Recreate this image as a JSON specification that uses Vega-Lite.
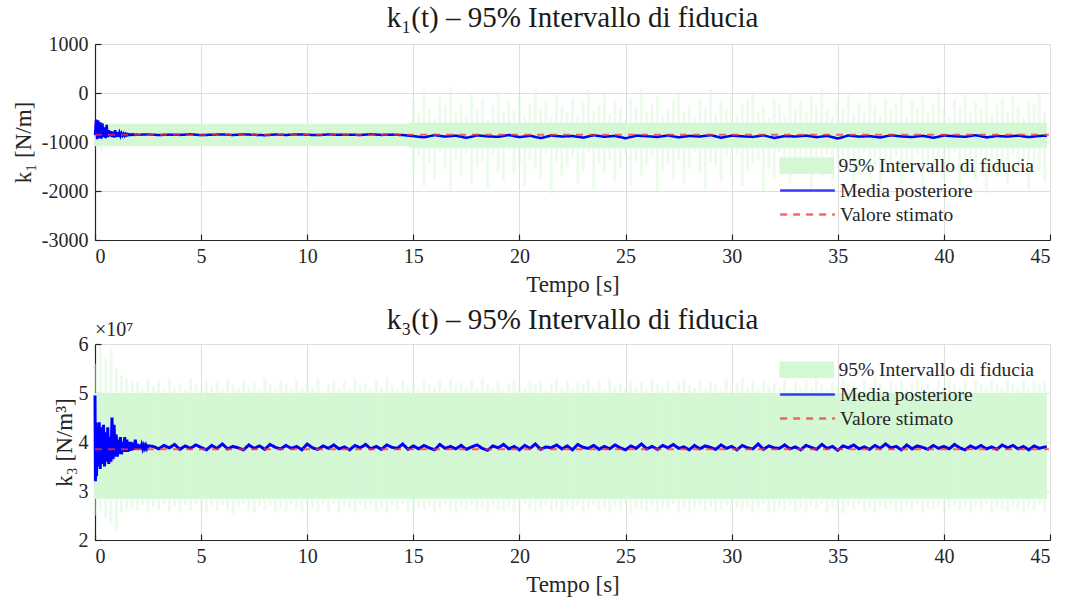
{
"$schema": "https://vega.github.io/schema/vega-lite/v6.json",
"background": "white",
"padding": {"left": 11, "top": 3, "right": 5, "bottom": 5},
"bounds": "flush",
"spacing": 104,
"config": {
  "view": {"stroke": "#dcdcdc", "strokeWidth": 1},
  "font": "'Liberation Serif', 'DejaVu Serif', serif",
  "axis": {"labelFont": "'Liberation Serif', 'DejaVu Serif', serif", "labelFontSize": 20, "labelColor": "#262626", "titleFont": "'Liberation Serif', 'DejaVu Serif', serif", "titleFontSize": 23, "titleFontWeight": "normal", "titleColor": "#262626", "gridColor": "#dedede", "gridWidth": 1, "domainColor": "#262626", "domainWidth": 1.2, "tickColor": "#262626", "tickWidth": 1.2, "tickSize": -6},
  "axisX": {"labelPadding": 12, "titlePadding": 7},
  "axisY": {"labelPadding": 13},
  "title": {"font": "'Liberation Serif', 'DejaVu Serif', serif", "fontSize": 29, "fontWeight": "normal", "color": "#1a1a1a"},
  "legend": {"labelFont": "'Liberation Serif', 'DejaVu Serif', serif", "labelFontSize": 19.5, "labelColor": "#262626", "labelLimit": 0, "padding": 0, "offset": 16, "rowPadding": 4, "labelOffset": 22, "symbolSize": 333,
    "layout": {"direction": "vertical", "margin": 4, "anchor": "end"}}
},
"datasets": {
  "c1": [{"t":0,"lo":-1082,"hi":-626},{"t":14.8,"lo":-1082,"hi":-626},{"t":14.81,"lo":-1116,"hi":-606},{"t":44.85,"lo":-1116,"hi":-606}],
  "s1": [
{"t":0.1,"lo":-1150,"hi":-560},{"t":0.3,"lo":-1180,"hi":-600},{"t":0.5,"lo":-1120,"hi":-580},{"t":0.7,"lo":-1100,"hi":-620},
{"t":15,"hi":-150,"lo":-1650},{"t":15.25,"hi":-420,"lo":-1300},{"t":15.5,"hi":50,"lo":-1900},{"t":15.75,"hi":-300,"lo":-1450},
{"t":16,"hi":-520,"lo":-1750},{"t":16.25,"hi":-80,"lo":-1200},{"t":16.5,"hi":-250,"lo":-1550},{"t":16.75,"hi":120,"lo":-2000},
{"t":17,"hi":-380,"lo":-1350},{"t":17.25,"hi":-200,"lo":-1700},{"t":17.5,"hi":-460,"lo":-1250},{"t":17.75,"hi":-30,"lo":-1850},
{"t":18,"hi":-330,"lo":-1500},{"t":18.25,"hi":-120,"lo":-1400},{"t":18.5,"hi":-540,"lo":-1950},{"t":18.75,"hi":-260,"lo":-1300},
{"t":19,"hi":30,"lo":-1600},{"t":19.25,"hi":-410,"lo":-1800},{"t":19.5,"hi":-180,"lo":-1150},{"t":19.75,"hi":-350,"lo":-1650},
{"t":20,"hi":-70,"lo":-1450},{"t":20.25,"hi":-480,"lo":-1900},{"t":20.5,"hi":-220,"lo":-1350},{"t":20.75,"hi":80,"lo":-1550},
{"t":21,"hi":-310,"lo":-1750},{"t":21.25,"hi":-140,"lo":-1250},{"t":21.5,"hi":-500,"lo":-2050},{"t":21.75,"hi":-40,"lo":-1400},
{"t":22,"hi":-270,"lo":-1700},{"t":22.25,"hi":-390,"lo":-1500},{"t":22.5,"hi":-100,"lo":-1300},{"t":22.75,"hi":-450,"lo":-1850},
{"t":23,"hi":-190,"lo":-1600},{"t":23.25,"hi":60,"lo":-1200},{"t":23.5,"hi":-360,"lo":-1950},{"t":23.75,"hi":-240,"lo":-1450},
{"t":24,"hi":-20,"lo":-1650},{"t":24.25,"hi":-430,"lo":-1350},{"t":24.5,"hi":-160,"lo":-1800},{"t":24.75,"hi":-300,"lo":-1550},
{"t":25,"hi":-530,"lo":-1250},{"t":25.25,"hi":-90,"lo":-1900},{"t":25.5,"hi":-280,"lo":-1400},{"t":25.75,"hi":100,"lo":-1700},
{"t":26,"hi":-400,"lo":-1500},{"t":26.25,"hi":-210,"lo":-1300},{"t":26.5,"hi":-60,"lo":-2000},{"t":26.75,"hi":-470,"lo":-1600},
{"t":27,"hi":-330,"lo":-1450},{"t":27.25,"hi":-130,"lo":-1750},{"t":27.5,"hi":10,"lo":-1350},{"t":27.75,"hi":-370,"lo":-1850},
{"t":28,"hi":-250,"lo":-1550},{"t":28.25,"hi":-490,"lo":-1200},{"t":28.5,"hi":-110,"lo":-1650},{"t":28.75,"hi":-290,"lo":-1950},
{"t":29,"hi":70,"lo":-1400},{"t":29.25,"hi":-420,"lo":-1500},{"t":29.5,"hi":-170,"lo":-1800},{"t":29.75,"hi":-340,"lo":-1300},
{"t":30,"hi":-50,"lo":-1700},{"t":30.25,"hi":-460,"lo":-1250},{"t":30.5,"hi":-230,"lo":-1900},{"t":30.75,"hi":-140,"lo":-1600},
{"t":31,"hi":40,"lo":-1450},{"t":31.25,"hi":-380,"lo":-1350},{"t":31.5,"hi":-270,"lo":-2000},{"t":31.75,"hi":-510,"lo":-1550},
{"t":32,"hi":-90,"lo":-1750},{"t":32.25,"hi":-200,"lo":-1200},{"t":32.5,"hi":-440,"lo":-1650},{"t":32.75,"hi":0,"lo":-1850},
{"t":33,"hi":-310,"lo":-1400},{"t":33.25,"hi":-150,"lo":-1500},{"t":33.5,"hi":-400,"lo":-1300},{"t":33.75,"hi":-70,"lo":-1950},
{"t":34,"hi":-260,"lo":-1600},{"t":34.25,"hi":90,"lo":-1700},{"t":34.5,"hi":-350,"lo":-1250},{"t":34.75,"hi":-480,"lo":-1800},
{"t":35,"hi":-120,"lo":-1450},{"t":35.25,"hi":-300,"lo":-1550},{"t":35.5,"hi":-30,"lo":-1350},{"t":35.75,"hi":-420,"lo":-1900},
{"t":36,"hi":-190,"lo":-1650},{"t":36.25,"hi":-360,"lo":-1200},{"t":36.5,"hi":50,"lo":-1750},{"t":36.75,"hi":-250,"lo":-1500},
{"t":37,"hi":-450,"lo":-2000},{"t":37.25,"hi":-100,"lo":-1400},{"t":37.5,"hi":-330,"lo":-1600},{"t":37.75,"hi":-210,"lo":-1300},
{"t":38,"hi":20,"lo":-1850},{"t":38.25,"hi":-470,"lo":-1550},{"t":38.5,"hi":-160,"lo":-1700},{"t":38.75,"hi":-290,"lo":-1250},
{"t":39,"hi":-80,"lo":-1950},{"t":39.25,"hi":-390,"lo":-1450},{"t":39.5,"hi":-230,"lo":-1650},{"t":39.75,"hi":110,"lo":-1350},
{"t":40,"hi":-340,"lo":-1800},{"t":40.25,"hi":-500,"lo":-1500},{"t":40.5,"hi":-130,"lo":-1200},{"t":40.75,"hi":-270,"lo":-1900},
{"t":41,"hi":-40,"lo":-1600},{"t":41.25,"hi":-410,"lo":-1400},{"t":41.5,"hi":-180,"lo":-1750},{"t":41.75,"hi":-320,"lo":-1300},
{"t":42,"hi":30,"lo":-2050},{"t":42.25,"hi":-440,"lo":-1550},{"t":42.5,"hi":-220,"lo":-1700},{"t":42.75,"hi":-110,"lo":-1450},
{"t":43,"hi":-370,"lo":-1850},{"t":43.25,"hi":-60,"lo":-1250},{"t":43.5,"hi":-280,"lo":-1650},{"t":43.75,"hi":-490,"lo":-1350},
{"t":44,"hi":-150,"lo":-1950},{"t":44.25,"hi":-240,"lo":-1500},{"t":44.5,"hi":-10,"lo":-1600},{"t":44.75,"hi":-400,"lo":-1800}
  ],
  "m1": [
{"t":0,"v":-860},{"t":0.05,"v":-540},{"t":0.1,"v":-940},{"t":0.15,"v":-560},{"t":0.2,"v":-920},{"t":0.25,"v":-600},{"t":0.3,"v":-930},{"t":0.35,"v":-620},{"t":0.4,"v":-900},{"t":0.45,"v":-700},
{"t":0.5,"v":-920},{"t":0.55,"v":-650},{"t":0.6,"v":-900},{"t":0.65,"v":-760},{"t":0.7,"v":-880},{"t":0.75,"v":-780},{"t":0.8,"v":-900},{"t":0.85,"v":-790},{"t":0.9,"v":-910},{"t":0.95,"v":-760},
{"t":1.0,"v":-900},{"t":1.05,"v":-800},{"t":1.1,"v":-890},{"t":1.15,"v":-810},{"t":1.2,"v":-880},{"t":1.25,"v":-820},{"t":1.3,"v":-870},{"t":1.35,"v":-830},{"t":1.4,"v":-875},{"t":1.45,"v":-835},
{"t":1.5,"v":-865},{"t":1.55,"v":-840},{"t":1.6,"v":-860},{"t":1.65,"v":-845},{"t":1.7,"v":-858},{"t":1.75,"v":-842},{"t":1.8,"v":-856},{"t":1.85,"v":-846},{"t":1.9,"v":-855},{"t":1.95,"v":-848},
{"t":2.0,"v":-852},{"t":2.5,"v":-846},{"t":3,"v":-858},{"t":3.5,"v":-849},{"t":4,"v":-855},{"t":4.5,"v":-843},{"t":5,"v":-860},{"t":5.5,"v":-851},{"t":6,"v":-847},{"t":6.5,"v":-857},
{"t":7,"v":-844},{"t":7.5,"v":-853},{"t":8,"v":-861},{"t":8.5,"v":-848},{"t":9,"v":-856},{"t":9.5,"v":-845},{"t":10,"v":-852},{"t":10.5,"v":-859},{"t":11,"v":-846},{"t":11.5,"v":-854},
{"t":12,"v":-850},{"t":12.5,"v":-857},{"t":13,"v":-843},{"t":13.5,"v":-855},{"t":14,"v":-849},{"t":14.5,"v":-858},
{"t":15,"v":-880},{"t":15.5,"v":-905},{"t":16,"v":-860},{"t":16.5,"v":-890},{"t":17,"v":-870},{"t":17.5,"v":-915},{"t":18,"v":-865},{"t":18.5,"v":-885},{"t":19,"v":-895},{"t":19.5,"v":-858},
{"t":20,"v":-900},{"t":20.5,"v":-872},{"t":21,"v":-920},{"t":21.5,"v":-868},{"t":22,"v":-888},{"t":22.5,"v":-878},{"t":23,"v":-910},{"t":23.5,"v":-862},{"t":24,"v":-893},{"t":24.5,"v":-875},
{"t":25,"v":-925},{"t":25.5,"v":-870},{"t":26,"v":-882},{"t":26.5,"v":-898},{"t":27,"v":-866},{"t":27.5,"v":-905},{"t":28,"v":-876},{"t":28.5,"v":-889},{"t":29,"v":-860},{"t":29.5,"v":-912},
{"t":30,"v":-871},{"t":30.5,"v":-884},{"t":31,"v":-896},{"t":31.5,"v":-864},{"t":32,"v":-918},{"t":32.5,"v":-879},{"t":33,"v":-887},{"t":33.5,"v":-869},{"t":34,"v":-902},{"t":34.5,"v":-874},
{"t":35,"v":-930},{"t":35.5,"v":-867},{"t":36,"v":-891},{"t":36.5,"v":-881},{"t":37,"v":-908},{"t":37.5,"v":-863},{"t":38,"v":-886},{"t":38.5,"v":-899},{"t":39,"v":-873},{"t":39.5,"v":-914},
{"t":40,"v":-868},{"t":40.5,"v":-883},{"t":41,"v":-894},{"t":41.5,"v":-861},{"t":42,"v":-906},{"t":42.5,"v":-877},{"t":43,"v":-889},{"t":43.5,"v":-870},{"t":44,"v":-900},{"t":44.5,"v":-876},
{"t":44.85,"v":-872}
  ],
  "e1": [{"t":0,"v":-850},{"t":44.95,"v":-850}],
  "c2": [{"t":0,"lo":2.84e7,"hi":5.0e7},{"t":44.85,"lo":2.84e7,"hi":5.0e7}],
  "s2": [
{"t":0,"hi":5.6e7,"lo":2.5e7},{"t":0.25,"hi":5.95e7,"lo":2.6e7},{"t":0.5,"hi":5.7e7,"lo":2.45e7},{"t":0.75,"hi":5.9e7,"lo":2.35e7},
{"t":1,"hi":5.5e7,"lo":2.2e7},{"t":1.25,"hi":5.35e7,"lo":2.55e7},{"t":1.5,"hi":5.3e7,"lo":2.6e7},{"t":1.75,"hi":5.25e7,"lo":2.65e7},
{"t":2,"hi":5.22e7,"lo":2.6e7},{"t":2.25,"hi":5.1e7,"lo":2.7e7},{"t":2.5,"hi":5.3e7,"lo":2.55e7},{"t":2.75,"hi":5.15e7,"lo":2.66e7},
{"t":3,"hi":5.25e7,"lo":2.62e7},{"t":3.25,"hi":5.08e7,"lo":2.72e7},{"t":3.5,"hi":5.28e7,"lo":2.58e7},{"t":3.75,"hi":5.12e7,"lo":2.68e7},
{"t":4,"hi":5.2e7,"lo":2.56e7},{"t":4.25,"hi":5.06e7,"lo":2.7e7},{"t":4.5,"hi":5.31e7,"lo":2.6e7},{"t":4.75,"hi":5.17e7,"lo":2.74e7},
{"t":5,"hi":5.09e7,"lo":2.63e7},{"t":5.25,"hi":5.26e7,"lo":2.55e7},{"t":5.5,"hi":5.14e7,"lo":2.69e7},{"t":5.75,"hi":5.23e7,"lo":2.59e7},
{"t":6,"hi":5.07e7,"lo":2.71e7},{"t":6.25,"hi":5.29e7,"lo":2.61e7},{"t":6.5,"hi":5.16e7,"lo":2.54e7},{"t":6.75,"hi":5.11e7,"lo":2.67e7},
{"t":7,"hi":5.27e7,"lo":2.73e7},{"t":7.25,"hi":5.13e7,"lo":2.6e7},{"t":7.5,"hi":5.21e7,"lo":2.57e7},{"t":7.75,"hi":5.06e7,"lo":2.68e7},
{"t":8,"hi":5.31e7,"lo":2.62e7},{"t":8.25,"hi":5.17e7,"lo":2.7e7},{"t":8.5,"hi":5.1e7,"lo":2.56e7},{"t":8.75,"hi":5.24e7,"lo":2.65e7},
{"t":9,"hi":5.19e7,"lo":2.59e7},{"t":9.25,"hi":5.08e7,"lo":2.72e7},{"t":9.5,"hi":5.28e7,"lo":2.61e7},{"t":9.75,"hi":5.14e7,"lo":2.55e7},
{"t":10,"hi":5.22e7,"lo":2.67e7},{"t":10.25,"hi":5.11e7,"lo":2.63e7},{"t":10.5,"hi":5.3e7,"lo":2.58e7},{"t":10.75,"hi":5.05e7,"lo":2.7e7},
{"t":11,"hi":5.18e7,"lo":2.6e7},{"t":11.25,"hi":5.26e7,"lo":2.74e7},{"t":11.5,"hi":5.12e7,"lo":2.57e7},{"t":11.75,"hi":5.23e7,"lo":2.66e7},
{"t":12,"hi":5.09e7,"lo":2.62e7},{"t":12.25,"hi":5.29e7,"lo":2.55e7},{"t":12.5,"hi":5.15e7,"lo":2.69e7},{"t":12.75,"hi":5.2e7,"lo":2.61e7},
{"t":13,"hi":5.07e7,"lo":2.71e7},{"t":13.25,"hi":5.25e7,"lo":2.58e7},{"t":13.5,"hi":5.13e7,"lo":2.64e7},{"t":13.75,"hi":5.32e7,"lo":2.56e7},
{"t":14,"hi":5.16e7,"lo":2.68e7},{"t":14.25,"hi":5.1e7,"lo":2.6e7},{"t":14.5,"hi":5.27e7,"lo":2.73e7},{"t":14.75,"hi":5.14e7,"lo":2.59e7},
{"t":15,"hi":5.21e7,"lo":2.55e7},{"t":15.25,"hi":5.06e7,"lo":2.66e7},{"t":15.5,"hi":5.3e7,"lo":2.62e7},{"t":15.75,"hi":5.18e7,"lo":2.7e7},
{"t":16,"hi":5.12e7,"lo":2.57e7},{"t":16.25,"hi":5.24e7,"lo":2.64e7},{"t":16.5,"hi":5.08e7,"lo":2.72e7},{"t":16.75,"hi":5.28e7,"lo":2.6e7},
{"t":17,"hi":5.15e7,"lo":2.54e7},{"t":17.25,"hi":5.22e7,"lo":2.67e7},{"t":17.5,"hi":5.11e7,"lo":2.61e7},{"t":17.75,"hi":5.26e7,"lo":2.69e7},
{"t":18,"hi":5.09e7,"lo":2.58e7},{"t":18.25,"hi":5.31e7,"lo":2.65e7},{"t":18.5,"hi":5.17e7,"lo":2.56e7},{"t":18.75,"hi":5.13e7,"lo":2.71e7},
{"t":19,"hi":5.25e7,"lo":2.62e7},{"t":19.25,"hi":5.07e7,"lo":2.59e7},{"t":19.5,"hi":5.2e7,"lo":2.68e7},{"t":19.75,"hi":5.29e7,"lo":2.55e7},
{"t":20,"hi":5.14e7,"lo":2.66e7},{"t":20.25,"hi":5.1e7,"lo":2.73e7},{"t":20.5,"hi":5.27e7,"lo":2.6e7},{"t":20.75,"hi":5.16e7,"lo":2.57e7},
{"t":21,"hi":5.23e7,"lo":2.64e7},{"t":21.25,"hi":5.05e7,"lo":2.7e7},{"t":21.5,"hi":5.19e7,"lo":2.58e7},{"t":21.75,"hi":5.3e7,"lo":2.62e7},
{"t":22,"hi":5.12e7,"lo":2.55e7},{"t":22.25,"hi":5.26e7,"lo":2.67e7},{"t":22.5,"hi":5.08e7,"lo":2.61e7},{"t":22.75,"hi":5.21e7,"lo":2.69e7},
{"t":23,"hi":5.17e7,"lo":2.56e7},{"t":23.25,"hi":5.28e7,"lo":2.63e7},{"t":23.5,"hi":5.11e7,"lo":2.72e7},{"t":23.75,"hi":5.24e7,"lo":2.59e7},
{"t":24,"hi":5.06e7,"lo":2.65e7},{"t":24.25,"hi":5.32e7,"lo":2.57e7},{"t":24.5,"hi":5.15e7,"lo":2.68e7},{"t":24.75,"hi":5.2e7,"lo":2.6e7},
{"t":25,"hi":5.1e7,"lo":2.71e7},{"t":25.25,"hi":5.27e7,"lo":2.54e7},{"t":25.5,"hi":5.13e7,"lo":2.66e7},{"t":25.75,"hi":5.22e7,"lo":2.62e7},
{"t":26,"hi":5.08e7,"lo":2.58e7},{"t":26.25,"hi":5.29e7,"lo":2.69e7},{"t":26.5,"hi":5.18e7,"lo":2.56e7},{"t":26.75,"hi":5.14e7,"lo":2.64e7},
{"t":27,"hi":5.25e7,"lo":2.61e7},{"t":27.25,"hi":5.07e7,"lo":2.73e7},{"t":27.5,"hi":5.21e7,"lo":2.57e7},{"t":27.75,"hi":5.3e7,"lo":2.67e7},
{"t":28,"hi":5.16e7,"lo":2.55e7},{"t":28.25,"hi":5.11e7,"lo":2.63e7},{"t":28.5,"hi":5.26e7,"lo":2.7e7},{"t":28.75,"hi":5.09e7,"lo":2.59e7},
{"t":29,"hi":5.23e7,"lo":2.66e7},{"t":29.25,"hi":5.17e7,"lo":2.58e7},{"t":29.5,"hi":5.05e7,"lo":2.62e7},{"t":29.75,"hi":5.28e7,"lo":2.71e7},
{"t":30,"hi":5.13e7,"lo":2.56e7},{"t":30.25,"hi":5.2e7,"lo":2.65e7},{"t":30.5,"hi":5.31e7,"lo":2.6e7},{"t":30.75,"hi":5.12e7,"lo":2.68e7},
{"t":31,"hi":5.24e7,"lo":2.57e7},{"t":31.25,"hi":5.08e7,"lo":2.64e7},{"t":31.5,"hi":5.27e7,"lo":2.72e7},{"t":31.75,"hi":5.15e7,"lo":2.59e7},
{"t":32,"hi":5.19e7,"lo":2.55e7},{"t":32.25,"hi":5.1e7,"lo":2.67e7},{"t":32.5,"hi":5.29e7,"lo":2.61e7},{"t":32.75,"hi":5.06e7,"lo":2.7e7},
{"t":33,"hi":5.22e7,"lo":2.58e7},{"t":33.25,"hi":5.14e7,"lo":2.63e7},{"t":33.5,"hi":5.26e7,"lo":2.56e7},{"t":33.75,"hi":5.11e7,"lo":2.69e7},
{"t":34,"hi":5.3e7,"lo":2.62e7},{"t":34.25,"hi":5.17e7,"lo":2.73e7},{"t":34.5,"hi":5.07e7,"lo":2.57e7},{"t":34.75,"hi":5.23e7,"lo":2.66e7},
{"t":35,"hi":5.13e7,"lo":2.6e7},{"t":35.25,"hi":5.28e7,"lo":2.54e7},{"t":35.5,"hi":5.16e7,"lo":2.68e7},{"t":35.75,"hi":5.21e7,"lo":2.61e7},
{"t":36,"hi":5.09e7,"lo":2.71e7},{"t":36.25,"hi":5.25e7,"lo":2.59e7},{"t":36.5,"hi":5.12e7,"lo":2.64e7},{"t":36.75,"hi":5.32e7,"lo":2.56e7},
{"t":37,"hi":5.18e7,"lo":2.67e7},{"t":37.25,"hi":5.06e7,"lo":2.62e7},{"t":37.5,"hi":5.24e7,"lo":2.7e7},{"t":37.75,"hi":5.14e7,"lo":2.58e7},
{"t":38,"hi":5.27e7,"lo":2.55e7},{"t":38.25,"hi":5.1e7,"lo":2.66e7},{"t":38.5,"hi":5.2e7,"lo":2.6e7},{"t":38.75,"hi":5.29e7,"lo":2.72e7},
{"t":39,"hi":5.15e7,"lo":2.57e7},{"t":39.25,"hi":5.22e7,"lo":2.65e7},{"t":39.5,"hi":5.08e7,"lo":2.61e7},{"t":39.75,"hi":5.26e7,"lo":2.69e7},
{"t":40,"hi":5.11e7,"lo":2.56e7},{"t":40.25,"hi":5.31e7,"lo":2.63e7},{"t":40.5,"hi":5.17e7,"lo":2.71e7},{"t":40.75,"hi":5.13e7,"lo":2.59e7},
{"t":41,"hi":5.23e7,"lo":2.64e7},{"t":41.25,"hi":5.07e7,"lo":2.57e7},{"t":41.5,"hi":5.28e7,"lo":2.68e7},{"t":41.75,"hi":5.19e7,"lo":2.6e7},
{"t":42,"hi":5.12e7,"lo":2.73e7},{"t":42.25,"hi":5.25e7,"lo":2.55e7},{"t":42.5,"hi":5.16e7,"lo":2.66e7},{"t":42.75,"hi":5.09e7,"lo":2.62e7},
{"t":43,"hi":5.3e7,"lo":2.58e7},{"t":43.25,"hi":5.2e7,"lo":2.69e7},{"t":43.5,"hi":5.14e7,"lo":2.61e7},{"t":43.75,"hi":5.27e7,"lo":2.56e7},
{"t":44,"hi":5.1e7,"lo":2.65e7},{"t":44.25,"hi":5.22e7,"lo":2.6e7},{"t":44.5,"hi":5.18e7,"lo":2.7e7},{"t":44.75,"hi":5.24e7,"lo":2.57e7}
  ],
  "m2": [
{"t":0,"v":4.95e7},{"t":0.02,"v":3.2e7},{"t":0.05,"v":4.4e7},{"t":0.07,"v":3.3e7},{"t":0.1,"v":4.1e7},{"t":0.15,"v":3.5e7},{"t":0.2,"v":4.4e7},{"t":0.25,"v":3.45e7},{"t":0.3,"v":4.3e7},{"t":0.35,"v":3.55e7},
{"t":0.4,"v":4.35e7},{"t":0.45,"v":3.5e7},{"t":0.5,"v":4.2e7},{"t":0.55,"v":3.6e7},{"t":0.6,"v":4.3e7},{"t":0.65,"v":3.55e7},{"t":0.7,"v":4.1e7},{"t":0.75,"v":3.6e7},{"t":0.8,"v":4.5e7},{"t":0.85,"v":3.65e7},
{"t":0.9,"v":4.35e7},{"t":0.95,"v":3.7e7},{"t":1.0,"v":4.15e7},{"t":1.05,"v":3.7e7},{"t":1.1,"v":4.05e7},{"t":1.15,"v":3.75e7},{"t":1.2,"v":4.1e7},{"t":1.25,"v":3.75e7},{"t":1.3,"v":4.0e7},{"t":1.35,"v":3.8e7},
{"t":1.4,"v":4.1e7},{"t":1.45,"v":3.8e7},{"t":1.5,"v":4.05e7},{"t":1.55,"v":3.8e7},{"t":1.6,"v":4.0e7},{"t":1.65,"v":3.82e7},{"t":1.7,"v":4.0e7},{"t":1.75,"v":3.83e7},{"t":1.8,"v":3.98e7},{"t":1.85,"v":3.84e7},
{"t":1.9,"v":4.05e7},{"t":1.95,"v":3.85e7},{"t":2.0,"v":3.96e7},{"t":2.05,"v":3.85e7},{"t":2.1,"v":3.95e7},{"t":2.15,"v":3.86e7},{"t":2.2,"v":3.94e7},{"t":2.25,"v":3.86e7},{"t":2.3,"v":3.93e7},{"t":2.35,"v":3.87e7},
{"t":2.4,"v":3.93e7},{"t":2.45,"v":3.87e7},{"t":2.5,"v":3.92e7},{"t":2.75,"v":3.91e7},
{"t":3,"v":3.86e7},{"t":3.25,"v":3.93e7},{"t":3.5,"v":3.88e7},{"t":3.75,"v":3.95e7},
{"t":4,"v":3.85e7},{"t":4.25,"v":3.92e7},{"t":4.5,"v":3.87e7},{"t":4.75,"v":3.94e7},
{"t":5,"v":3.89e7},{"t":5.25,"v":3.84e7},{"t":5.5,"v":3.93e7},{"t":5.75,"v":3.87e7},
{"t":6,"v":3.96e7},{"t":6.25,"v":3.86e7},{"t":6.5,"v":3.91e7},{"t":6.75,"v":3.88e7},
{"t":7,"v":3.84e7},{"t":7.25,"v":3.94e7},{"t":7.5,"v":3.87e7},{"t":7.75,"v":3.92e7},
{"t":8,"v":3.85e7},{"t":8.25,"v":3.95e7},{"t":8.5,"v":3.89e7},{"t":8.75,"v":3.86e7},
{"t":9,"v":3.93e7},{"t":9.25,"v":3.87e7},{"t":9.5,"v":3.91e7},{"t":9.75,"v":3.84e7},
{"t":10,"v":3.96e7},{"t":10.25,"v":3.88e7},{"t":10.5,"v":3.85e7},{"t":10.75,"v":3.92e7},
{"t":11,"v":3.87e7},{"t":11.25,"v":3.94e7},{"t":11.5,"v":3.86e7},{"t":11.75,"v":3.9e7},
{"t":12,"v":3.84e7},{"t":12.25,"v":3.93e7},{"t":12.5,"v":3.88e7},{"t":12.75,"v":3.95e7},
{"t":13,"v":3.86e7},{"t":13.25,"v":3.91e7},{"t":13.5,"v":3.85e7},{"t":13.75,"v":3.94e7},
{"t":14,"v":3.89e7},{"t":14.25,"v":3.87e7},{"t":14.5,"v":3.96e7},{"t":14.75,"v":3.85e7},
{"t":15,"v":3.92e7},{"t":15.25,"v":3.86e7},{"t":15.5,"v":3.93e7},{"t":15.75,"v":3.88e7},
{"t":16,"v":3.84e7},{"t":16.25,"v":3.95e7},{"t":16.5,"v":3.87e7},{"t":16.75,"v":3.91e7},
{"t":17,"v":3.86e7},{"t":17.25,"v":3.93e7},{"t":17.5,"v":3.85e7},{"t":17.75,"v":3.9e7},
{"t":18,"v":3.94e7},{"t":18.25,"v":3.87e7},{"t":18.5,"v":3.83e7},{"t":18.75,"v":3.92e7},
{"t":19,"v":3.88e7},{"t":19.25,"v":3.95e7},{"t":19.5,"v":3.86e7},{"t":19.75,"v":3.91e7},
{"t":20,"v":3.84e7},{"t":20.25,"v":3.93e7},{"t":20.5,"v":3.87e7},{"t":20.75,"v":3.96e7},
{"t":21,"v":3.85e7},{"t":21.25,"v":3.9e7},{"t":21.5,"v":3.88e7},{"t":21.75,"v":3.94e7},
{"t":22,"v":3.86e7},{"t":22.25,"v":3.92e7},{"t":22.5,"v":3.84e7},{"t":22.75,"v":3.95e7},
{"t":23,"v":3.89e7},{"t":23.25,"v":3.87e7},{"t":23.5,"v":3.93e7},{"t":23.75,"v":3.85e7},
{"t":24,"v":3.91e7},{"t":24.25,"v":3.86e7},{"t":24.5,"v":3.94e7},{"t":24.75,"v":3.88e7},
{"t":25,"v":3.84e7},{"t":25.25,"v":3.92e7},{"t":25.5,"v":3.87e7},{"t":25.75,"v":3.96e7},
{"t":26,"v":3.86e7},{"t":26.25,"v":3.91e7},{"t":26.5,"v":3.85e7},{"t":26.75,"v":3.93e7},
{"t":27,"v":3.88e7},{"t":27.25,"v":3.95e7},{"t":27.5,"v":3.87e7},{"t":27.75,"v":3.9e7},
{"t":28,"v":3.84e7},{"t":28.25,"v":3.93e7},{"t":28.5,"v":3.86e7},{"t":28.75,"v":3.92e7},
{"t":29,"v":3.89e7},{"t":29.25,"v":3.85e7},{"t":29.5,"v":3.94e7},{"t":29.75,"v":3.87e7},
{"t":30,"v":3.91e7},{"t":30.25,"v":3.84e7},{"t":30.5,"v":3.93e7},{"t":30.75,"v":3.88e7},
{"t":31,"v":3.86e7},{"t":31.25,"v":3.96e7},{"t":31.5,"v":3.85e7},{"t":31.75,"v":3.92e7},
{"t":32,"v":3.88e7},{"t":32.25,"v":3.87e7},{"t":32.5,"v":3.94e7},{"t":32.75,"v":3.86e7},
{"t":33,"v":3.9e7},{"t":33.25,"v":3.84e7},{"t":33.5,"v":3.93e7},{"t":33.75,"v":3.89e7},
{"t":34,"v":3.85e7},{"t":34.25,"v":3.95e7},{"t":34.5,"v":3.87e7},{"t":34.75,"v":3.91e7},
{"t":35,"v":3.83e7},{"t":35.25,"v":3.92e7},{"t":35.5,"v":3.88e7},{"t":35.75,"v":3.94e7},
{"t":36,"v":3.86e7},{"t":36.25,"v":3.9e7},{"t":36.5,"v":3.85e7},{"t":36.75,"v":3.93e7},
{"t":37,"v":3.87e7},{"t":37.25,"v":3.96e7},{"t":37.5,"v":3.88e7},{"t":37.75,"v":3.91e7},
{"t":38,"v":3.84e7},{"t":38.25,"v":3.94e7},{"t":38.5,"v":3.86e7},{"t":38.75,"v":3.92e7},
{"t":39,"v":3.89e7},{"t":39.25,"v":3.85e7},{"t":39.5,"v":3.93e7},{"t":39.75,"v":3.87e7},
{"t":40,"v":3.91e7},{"t":40.25,"v":3.86e7},{"t":40.5,"v":3.95e7},{"t":40.75,"v":3.88e7},
{"t":41,"v":3.84e7},{"t":41.25,"v":3.92e7},{"t":41.5,"v":3.87e7},{"t":41.75,"v":3.93e7},
{"t":42,"v":3.86e7},{"t":42.25,"v":3.9e7},{"t":42.5,"v":3.85e7},{"t":42.75,"v":3.94e7},
{"t":43,"v":3.88e7},{"t":43.25,"v":3.93e7},{"t":43.5,"v":3.86e7},{"t":43.75,"v":3.91e7},
{"t":44,"v":3.84e7},{"t":44.25,"v":3.92e7},{"t":44.5,"v":3.87e7},{"t":44.75,"v":3.9e7},
{"t":44.85,"v":3.9e7}
  ],
  "e2": [{"t":0,"v":3.85e7},{"t":44.95,"v":3.85e7}],
  "x2": [{"t":0,"v":6e7,"label":"×10⁷"}]
},
"vconcat": [
  {
    "width": 955, "height": 196,
    "title": {"text": "k₁(t) – 95% Intervallo di fiducia", "offset": 1},
    "layer": [
      {"data": {"name": "c1"}, "mark": {"type": "area", "opacity": 1},
       "encoding": {
         "x": {"field": "t", "type": "quantitative", "scale": {"domain": [0, 45], "nice": false}, "axis": {"values": [0,5,10,15,20,25,30,35,40,45], "title": "Tempo [s]"}},
         "y": {"field": "lo", "type": "quantitative", "scale": {"domain": [-3000, 1000], "nice": false}, "axis": {"values": [-3000,-2000,-1000,0,1000], "labelExpr": "'' + datum.value", "title": "k₁ [N/m]", "titlePadding": 6}},
         "y2": {"field": "hi"},
         "fill": {"datum": "95% Intervallo di fiducia", "scale": {"domain": ["95% Intervallo di fiducia"], "range": ["#d4f7d4"]},
           "legend": {"title": null, "orient": "bottom-right", "symbolType": "M-3,-0.9H3V0.9H-3Z", "symbolStrokeWidth": 0, "symbolOpacity": 1}}
       }},
      {"data": {"name": "s1"}, "mark": {"type": "rule", "strokeWidth": 3, "opacity": 0.45, "color": "#d4f7d4"},
       "encoding": {"x": {"field": "t", "type": "quantitative"}, "y": {"field": "lo", "type": "quantitative"}, "y2": {"field": "hi"}}},
      {"data": {"name": "m1"}, "mark": {"type": "line", "strokeWidth": 2.5},
       "encoding": {"x": {"field": "t", "type": "quantitative"}, "y": {"field": "v", "type": "quantitative"},
         "stroke": {"datum": "Media posteriore", "scale": {"domain": ["Media posteriore", "Valore stimato"], "range": ["#0000ff", "#ff3030"]},
           "legend": {"title": null, "orient": "bottom-right", "symbolType": "M-3,0H3", "symbolStrokeWidth": 2.5}},
         "strokeDash": {"datum": "Media posteriore", "scale": {"domain": ["Media posteriore", "Valore stimato"], "range": [[1, 0], [7, 6]]},
           "legend": {"title": null, "orient": "bottom-right", "symbolType": "M-3,0H3", "symbolStrokeWidth": 2.5}}}},
      {"data": {"name": "e1"}, "mark": {"type": "line", "strokeWidth": 2, "opacity": 0.75},
       "encoding": {"x": {"field": "t", "type": "quantitative"}, "y": {"field": "v", "type": "quantitative"}, "stroke": {"datum": "Valore stimato"}, "strokeDash": {"datum": "Valore stimato"}}}
    ]
  },
  {
    "width": 955, "height": 196,
    "title": {"text": "k₃(t) – 95% Intervallo di fiducia", "offset": -15},
    "layer": [
      {"data": {"name": "c2"}, "mark": {"type": "area", "opacity": 1},
       "encoding": {
         "x": {"field": "t", "type": "quantitative", "scale": {"domain": [0, 45], "nice": false}, "axis": {"values": [0,5,10,15,20,25,30,35,40,45], "title": "Tempo [s]"}},
         "y": {"field": "lo", "type": "quantitative", "scale": {"domain": [20000000, 60000000], "nice": false}, "axis": {"values": [20000000,30000000,40000000,50000000,60000000], "labelExpr": "'' + round(datum.value/1e7)", "title": "k₃ [N/m³]", "titlePadding": 2}},
         "y2": {"field": "hi"},
         "fill": {"datum": "95% Intervallo di fiducia", "scale": {"domain": ["95% Intervallo di fiducia"], "range": ["#d4f7d4"]},
           "legend": {"title": null, "orient": "top-right", "symbolType": "M-3,-0.9H3V0.9H-3Z", "symbolStrokeWidth": 0, "symbolOpacity": 1}}
       }},
      {"data": {"name": "s2"}, "mark": {"type": "rule", "strokeWidth": 3, "opacity": 0.45, "color": "#d4f7d4"},
       "encoding": {"x": {"field": "t", "type": "quantitative"}, "y": {"field": "lo", "type": "quantitative"}, "y2": {"field": "hi"}}},
      {"data": {"name": "m2"}, "mark": {"type": "line", "strokeWidth": 3},
       "encoding": {"x": {"field": "t", "type": "quantitative"}, "y": {"field": "v", "type": "quantitative"},
         "stroke": {"datum": "Media posteriore", "scale": {"domain": ["Media posteriore", "Valore stimato"], "range": ["#0000ff", "#ff3030"]},
           "legend": {"title": null, "orient": "top-right", "symbolType": "M-3,0H3", "symbolStrokeWidth": 2.5}},
         "strokeDash": {"datum": "Media posteriore", "scale": {"domain": ["Media posteriore", "Valore stimato"], "range": [[1, 0], [7, 6]]},
           "legend": {"title": null, "orient": "top-right", "symbolType": "M-3,0H3", "symbolStrokeWidth": 2.5}}}},
      {"data": {"name": "e2"}, "mark": {"type": "line", "strokeWidth": 2, "opacity": 0.75},
       "encoding": {"x": {"field": "t", "type": "quantitative"}, "y": {"field": "v", "type": "quantitative"}, "stroke": {"datum": "Valore stimato"}, "strokeDash": {"datum": "Valore stimato"}}},
      {"data": {"name": "x2"}, "mark": {"type": "text", "align": "left", "baseline": "bottom", "dy": -4, "font": "'Liberation Serif', 'DejaVu Serif', serif", "fontSize": 20, "color": "#262626"},
       "encoding": {"x": {"field": "t", "type": "quantitative"}, "y": {"field": "v", "type": "quantitative"}, "text": {"field": "label"}}}
    ]
  }
]
}
